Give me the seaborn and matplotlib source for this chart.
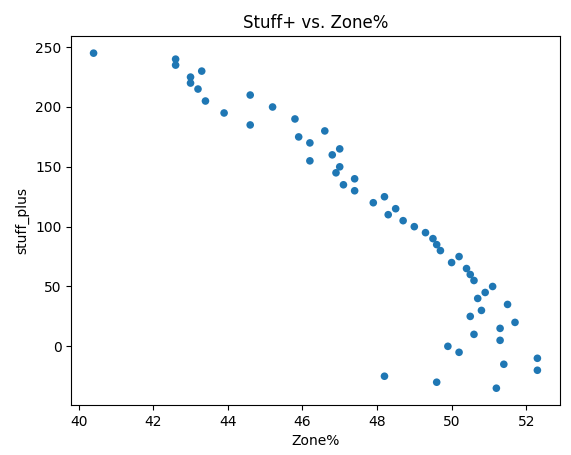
import matplotlib
matplotlib.use("Agg")
import matplotlib.pyplot as plt
import pandas as pd
import seaborn as sns

zone_pct = [40.4, 42.6, 42.6, 43.0, 43.0, 43.3, 43.2, 43.4, 43.9, 44.6, 44.6, 45.2,
            45.8, 45.9, 46.2, 46.2, 46.6, 46.8, 47.0, 47.0, 46.9, 47.1, 47.4, 47.4,
            47.9, 48.2, 48.3, 48.5, 48.7, 49.0, 49.3, 49.5, 49.6, 49.7, 50.0, 50.2,
            50.4, 50.5, 50.6, 51.1, 50.9, 50.7, 51.5, 50.8, 50.5, 51.7, 51.3, 50.6,
            51.3, 49.9, 50.2, 52.3, 51.4, 52.3, 48.2, 49.6, 51.2]
stuff_plus = [245, 240, 235, 225, 220, 230, 215, 205, 195, 210, 185, 200,
              190, 175, 170, 155, 180, 160, 165, 150, 145, 135, 140, 130,
              120, 125, 110, 115, 105, 100, 95, 90, 85, 80, 70, 75,
              65, 60, 55, 50, 45, 40, 35, 30, 25, 20, 15, 10,
              5, 0, -5, -10, -15, -20, -25, -30, -35]

df = pd.DataFrame({"Zone%": zone_pct, "stuff_plus": stuff_plus})

fig, ax = plt.subplots(figsize=(5.71, 4.55), dpi=100)
sns.scatterplot(data=df, x="Zone%", y="stuff_plus", ax=ax, s=30, color="#1f77b4", edgecolor="none")
ax.set_title("Stuff+ vs. Zone%")
plt.subplots_adjust(left=0.125, right=0.98, top=0.92, bottom=0.11)
plt.savefig("out.png")
